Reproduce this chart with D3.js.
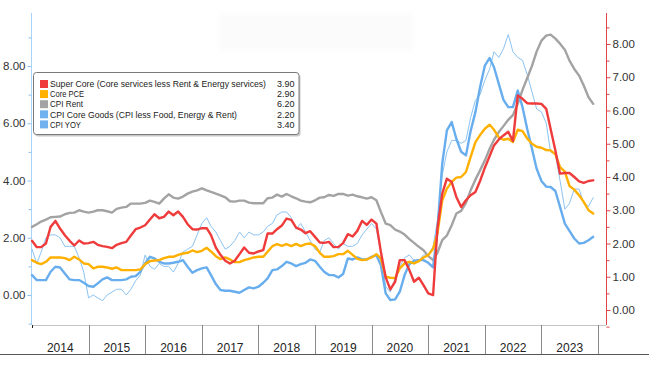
<!DOCTYPE html>
<html>
<head>
<meta charset="utf-8">
<script src="https://cdn.jsdelivr.net/npm/d3@7"></script>
<style>
  html, body { margin: 0; padding: 0; background: #ffffff; }
  svg { display: block; font-family: "Liberation Sans", Arial, sans-serif; }
</style>
</head>
<body>
<svg id="chart" width="649" height="369"></svg>
<script>
// ---------------- DATA ----------------
const startMonth = new Date(2014, 0, 1);
const months = d3.timeMonth.range(startMonth, new Date(2024, 0, 1)); // Jan 2014 .. Dec 2023
const years = ["2014","2015","2016","2017","2018","2019","2020","2021","2022","2023"];

const seriesNames = [
  "Super Core (Core services less Rent & Energy services)",
  "Core PCE",
  "CPI Rent",
  "CPI Core Goods (CPI less Food, Energy & Rent)",
  "CPI YOY"
];
const lastValues = ["3.90", "2.90", "6.20", "2.20", "3.40"];

// right axis series
const superCore = [
  2.08,1.89,1.89,2.00,2.50,2.68,2.45,2.25,2.08,1.94,2.09,2.00,
  2.01,2.05,1.96,1.92,1.90,1.86,1.96,2.01,2.05,2.24,2.43,2.48,
  2.55,2.72,2.88,2.76,2.80,2.96,2.85,2.96,2.80,2.58,2.43,2.42,
  2.46,2.46,2.25,1.88,1.66,1.48,1.40,1.48,1.68,1.88,1.72,1.70,
  1.76,1.80,2.30,2.30,2.43,2.54,2.75,2.71,2.48,2.42,2.31,2.37,
  2.20,2.03,2.02,2.05,1.89,1.90,2.01,2.28,2.21,2.38,2.68,2.56,
  2.72,2.60,1.75,0.98,0.62,0.85,1.50,1.50,1.20,0.85,0.97,0.75,
  0.50,0.45,2.45,3.50,3.95,3.85,3.40,3.10,3.30,3.45,3.55,3.88,
  4.28,4.63,4.95,5.13,5.25,5.36,5.08,6.45,6.35,6.22,6.21,6.21,
  6.20,6.05,5.45,4.80,4.10,4.12,4.12,4.00,3.87,3.82,3.88,3.90
];
const corePCE = [
  1.50,1.42,1.38,1.45,1.58,1.58,1.58,1.56,1.50,1.60,1.52,1.40,
  1.38,1.25,1.30,1.30,1.28,1.24,1.28,1.20,1.20,1.20,1.20,1.22,
  1.38,1.47,1.49,1.50,1.56,1.60,1.60,1.66,1.70,1.72,1.79,1.74,
  1.78,1.87,1.76,1.62,1.53,1.58,1.52,1.44,1.44,1.50,1.54,1.58,
  1.60,1.60,1.75,1.92,1.98,1.93,1.98,1.92,1.99,1.92,1.98,2.00,
  1.92,1.72,1.60,1.60,1.62,1.68,1.68,1.78,1.66,1.54,1.50,1.52,
  1.58,1.68,1.55,1.00,0.97,0.96,1.25,1.40,1.45,1.40,1.47,1.58,
  1.65,1.84,2.30,3.30,3.65,3.85,3.98,4.00,4.15,4.60,5.05,5.26,
  5.45,5.57,5.42,5.19,5.12,5.15,5.05,5.42,5.38,5.16,5.00,4.91,
  4.88,4.81,4.80,4.68,4.30,4.16,3.73,3.62,3.45,3.25,3.00,2.90
];
const cpiRent = [
  2.50,2.58,2.66,2.72,2.79,2.80,2.81,2.88,2.92,2.93,3.00,2.96,
  2.93,2.96,3.00,3.00,2.97,2.93,3.04,3.08,3.10,3.20,3.20,3.20,
  3.22,3.29,3.25,3.20,3.35,3.48,3.38,3.35,3.41,3.50,3.56,3.60,
  3.66,3.60,3.55,3.50,3.45,3.39,3.27,3.26,3.29,3.29,3.23,3.21,
  3.21,3.21,3.36,3.38,3.47,3.41,3.49,3.42,3.36,3.29,3.26,3.24,
  3.30,3.38,3.39,3.46,3.43,3.49,3.49,3.44,3.47,3.42,3.39,3.35,
  3.39,3.30,2.95,2.60,2.55,2.42,2.36,2.27,2.13,2.02,1.90,1.80,
  1.62,1.50,1.72,2.10,2.24,2.55,2.90,2.98,3.22,3.60,3.92,4.20,
  4.50,4.85,5.12,5.35,5.53,5.72,5.86,6.20,6.62,6.97,7.34,7.77,
  8.10,8.25,8.28,8.16,8.01,7.83,7.50,7.25,7.05,6.75,6.40,6.20
];
const coreGoods = [
  1.05,0.90,0.90,0.90,1.15,1.30,1.28,1.10,0.92,0.90,0.90,0.82,
  0.72,0.70,0.80,0.92,0.98,0.90,0.90,0.90,0.92,1.00,1.02,1.15,
  1.40,1.60,1.55,1.45,1.40,1.40,1.42,1.45,1.50,1.30,1.12,1.20,
  1.25,1.28,1.05,0.78,0.60,0.58,0.58,0.55,0.52,0.60,0.68,0.65,
  0.70,0.82,0.95,1.20,1.22,1.32,1.45,1.40,1.32,1.38,1.42,1.52,
  1.48,1.30,1.15,1.05,1.05,0.98,1.08,1.55,1.52,1.58,1.52,1.52,
  1.60,1.65,1.35,0.50,0.30,0.32,0.55,1.05,1.38,1.48,1.50,1.50,
  1.42,1.28,2.40,4.40,5.40,5.65,5.15,4.76,4.65,5.38,5.95,6.70,
  7.35,7.58,7.30,6.80,6.32,6.10,6.10,6.60,6.10,5.45,4.85,4.25,
  3.88,3.71,3.70,3.58,3.10,2.60,2.38,2.15,2.00,2.02,2.10,2.20
];
// left axis series
const cpiYoY = [
  1.6,1.1,1.5,2.0,2.1,2.1,2.0,1.7,1.7,1.7,1.3,0.8,
  -0.1,0.0,-0.1,-0.2,0.0,0.1,0.2,0.2,0.0,0.2,0.5,0.7,
  1.4,1.0,0.9,1.1,1.0,1.0,0.8,1.1,1.5,1.6,1.7,2.1,
  2.5,2.7,2.4,2.2,1.9,1.6,1.7,1.9,2.2,2.0,2.2,2.1,
  2.1,2.2,2.4,2.5,2.8,2.9,2.9,2.7,2.3,2.5,2.2,1.9,
  1.6,1.5,1.9,2.0,1.8,1.6,1.8,1.7,1.7,1.8,2.1,2.3,
  2.5,2.3,1.5,0.3,0.1,0.6,1.0,1.3,1.4,1.2,1.2,1.4,
  1.4,1.7,2.6,4.2,5.0,5.4,5.4,5.3,5.4,6.2,6.8,7.0,
  7.5,7.9,8.5,8.3,8.6,9.1,8.5,8.3,8.2,7.7,7.1,6.5,
  6.4,6.0,5.0,4.9,4.0,3.0,3.2,3.7,3.7,3.2,3.1,3.4
];

const leftMajor = [0, 2, 4, 6, 8];
const leftMinor = [-1, 1, 3, 5, 7, 9];
const rightMajor = [0, 1, 2, 3, 4, 5, 6, 7, 8];
const rightMinor = [-0.5, 0.5, 1.5, 2.5, 3.5, 4.5, 5.5, 6.5, 7.5, 8.5];

// ---------------- STYLE ----------------
const colors = ["#ef3b3b", "#ffb000", "#a3a3a3", "#68aeee", "#8cc3f2"];
const swatchColors = ["#ef3b3b", "#ffb000", "#a3a3a3", "#70b2f0", "#70b2f0"];

const svg = d3.select("#chart");
const plotTop = 13, plotBottom = 325, plotLeft = 32, plotRight = 606;

const x = d3.scaleTime().domain([startMonth, new Date(2024, 0, 1)]).range([32, 598]);
const yL = d3.scaleLinear().domain([-1.048, 9.852]).range([plotBottom, plotTop]);
const yR = d3.scaleLinear().domain([-0.451, 8.932]).range([plotBottom, plotTop]);

// faint banner at top (blurred title area)
const defs = svg.append("defs");
defs.append("filter").attr("id", "blur").append("feGaussianBlur").attr("stdDeviation", 3);
svg.append("rect").attr("x", 218).attr("y", 14).attr("width", 196).attr("height", 36)
  .attr("fill", "#fbfbfb").attr("filter", "url(#blur)");

// ---------------- AXES ----------------
// x-axis baseline
svg.append("line").attr("x1", plotLeft).attr("x2", plotRight)
  .attr("y1", plotBottom + 0.5).attr("y2", plotBottom + 0.5)
  .attr("stroke", "#c4c4c4").attr("stroke-width", 1);

// year band
const yearStarts = years.map(y => new Date(+y, 0, 1));
const bandTop = plotBottom, bandBottom = 354;
svg.append("g").selectAll("line").data(years.map(y => new Date(+y + 1, 0, 1)))
  .join("line")
  .attr("x1", d => Math.round(x(d)) + 0.5).attr("x2", d => Math.round(x(d)) + 0.5)
  .attr("y1", bandTop).attr("y2", bandBottom)
  .attr("stroke", "#8a8a8a").attr("stroke-width", 1);
svg.append("line").attr("x1", plotLeft + 0.5).attr("x2", plotLeft + 0.5)
  .attr("y1", plotBottom).attr("y2", plotBottom + 3).attr("stroke", "#222");
svg.append("line").attr("x1", 0).attr("x2", 649)
  .attr("y1", bandBottom + 0.5).attr("y2", bandBottom + 0.5)
  .attr("stroke", "#555").attr("stroke-width", 1);
svg.append("g").selectAll("text").data(years).join("text")
  .attr("x", (d, i) => (x(yearStarts[i]) + x(new Date(+d + 1, 0, 1))) / 2)
  .attr("y", 351.5)
  .attr("text-anchor", "middle")
  .attr("font-size", "12px")
  .attr("fill", "#222")
  .text(d => d);

// left axis
const gL = svg.append("g").attr("transform", `translate(${plotLeft - 0.5},0)`);
gL.call(d3.axisLeft(yL).tickValues(leftMajor).tickFormat(d3.format(".2f")).tickSize(4).tickPadding(2).tickSizeOuter(0));
gL.call(g => g.select(".domain").remove());
gL.append("line").attr("x1", 0).attr("x2", 0).attr("y1", plotTop).attr("y2", plotBottom)
  .attr("stroke", "#a9d3f7");
const gLm = svg.append("g").attr("transform", `translate(${plotLeft - 0.5},0)`);
gLm.call(d3.axisLeft(yL).tickValues(leftMinor).tickFormat("").tickSize(3).tickSizeOuter(0));
gLm.select(".domain").remove();
[gL, gLm].forEach(g => g.selectAll(".tick line").attr("stroke", "#8cc3f2"));
gL.selectAll(".tick text").attr("fill", "#333").attr("font-size", "11.5px")
  .attr("font-family", "Liberation Sans, Arial, sans-serif");

// right axis
const gR = svg.append("g").attr("transform", `translate(${plotRight + 0.5},0)`);
gR.call(d3.axisRight(yR).tickValues(rightMajor).tickFormat(d3.format(".2f")).tickSize(4).tickPadding(2).tickSizeOuter(0));
gR.select(".domain").remove();
gR.append("line").attr("x1", 0).attr("x2", 0).attr("y1", plotTop).attr("y2", plotBottom)
  .attr("stroke", "#e0474a");
const gRm = svg.append("g").attr("transform", `translate(${plotRight + 0.5},0)`);
gRm.call(d3.axisRight(yR).tickValues(rightMinor).tickFormat("").tickSize(3).tickSizeOuter(0));
gRm.select(".domain").remove();
[gR, gRm].forEach(g => g.selectAll(".tick line").attr("stroke", "#e0474a"));
gR.selectAll(".tick text").attr("fill", "#333").attr("font-size", "11.5px")
  .attr("font-family", "Liberation Sans, Arial, sans-serif");

// ---------------- LINES ----------------
const lineR = d3.line().x((d, i) => x(months[i])).y(d => yR(d));
const lineL = d3.line().x((d, i) => x(months[i])).y(d => yL(d));

const drawOrder = [
  { data: cpiYoY, line: lineL, color: colors[4], width: 1 },
  { data: cpiRent, line: lineR, color: colors[2], width: 2.4 },
  { data: coreGoods, line: lineR, color: colors[3], width: 2.4 },
  { data: corePCE, line: lineR, color: colors[1], width: 2.4 },
  { data: superCore, line: lineR, color: colors[0], width: 2.4 }
];
svg.append("g").selectAll("path").data(drawOrder).join("path")
  .attr("d", d => d.line(d.data))
  .attr("fill", "none")
  .attr("stroke", d => d.color)
  .attr("stroke-width", d => d.width)
  .attr("stroke-linejoin", "round")
  .attr("stroke-linecap", "round");

// ---------------- LEGEND ----------------
const lg = svg.append("g");
lg.append("rect").attr("x", 35).attr("y", 74.5).attr("width", 265.5).attr("height", 62)
  .attr("rx", 3).attr("fill", "#c8c8c8");
lg.append("rect").attr("x", 33.5).attr("y", 72.5).attr("width", 265.5).attr("height", 62)
  .attr("rx", 3).attr("fill", "#ffffff").attr("stroke", "#7a7a7a").attr("stroke-width", 1);
const rowY = i => 84 + i * 10.1;
const targetWidths = [216, 34, 33, 187, 31];
seriesNames.forEach((name, i) => {
  lg.append("rect").attr("x", 40).attr("y", rowY(i) - 4).attr("width", 8).attr("height", 8)
    .attr("fill", swatchColors[i]);
  const t = lg.append("text").attr("x", 50).attr("y", rowY(i) + 3.2)
    .attr("font-size", "9px").attr("fill", "#222").text(name);
  const w = t.node().getComputedTextLength();
  if (w > targetWidths[i]) {
    t.attr("textLength", targetWidths[i]).attr("lengthAdjust", "spacingAndGlyphs");
  }
  lg.append("text").attr("x", 294.5).attr("y", rowY(i) + 3.2)
    .attr("text-anchor", "end").attr("font-size", "9px").attr("fill", "#222")
    .text(lastValues[i]);
});
</script>
</body>
</html>
